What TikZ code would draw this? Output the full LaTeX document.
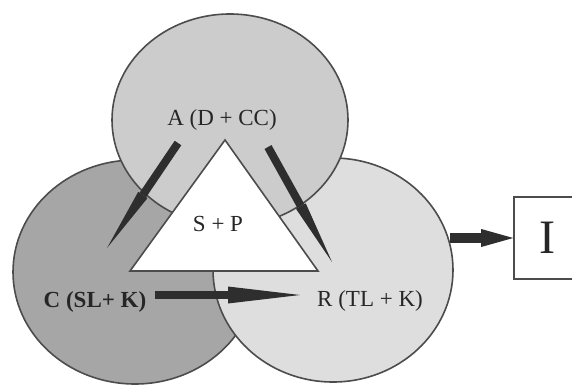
\documentclass[tikz,border=0pt]{standalone}
\usepackage{fontspec}
\setmainfont{Liberation Serif}
\usetikzlibrary{arrows.meta,shapes.geometric}
\definecolor{ActClr}{gray}{0.80}
\definecolor{CogClr}{gray}{0.65}
\definecolor{ResClr}{gray}{0.87}
\definecolor{EdgeClr}{gray}{0.30}
\definecolor{ArrowClr}{gray}{0.18}

\tikzset{
  blob/.style={ellipse,draw=EdgeClr,line width=0.8pt,inner sep=0pt},
  lab/.style={font=\fontsize{11.5}{13}\selectfont,text=black!85},
  fatarrow/.style={draw=ArrowClr,line width=4pt,
    -{Triangle[length=32pt,width=5.6pt,line width=0pt]}},
}

\begin{document}
\begin{tikzpicture}[x=0.5pt,y=-0.5pt]
\useasboundingbox (0,0) rectangle (572,385);

% the three overlapping areas, back to front
\node[blob,fill=CogClr,minimum width=122pt,minimum height=112pt] (C) at (135,272) {};
\node[blob,fill=ResClr,minimum width=120pt,minimum height=112pt] (R) at (333,270) {};
\node[blob,fill=ActClr,minimum width=118pt,minimum height=106pt] (A) at (230,120) {};

\coordinate (T1) at (225,140);
\coordinate (T2) at (130,271);
\coordinate (T3) at (318,271);
\draw[fill=white,draw=EdgeClr,line width=0.8pt] (T1) -- (T2) -- (T3) -- cycle;

\node[lab] (Alab) at (222,120) {A (D + CC)};
\node[lab] (SP) at (218,224) {S + P};
\node[lab,font=\fontsize{11.5}{13}\selectfont\bfseries] (Clab) at (95,302) {C (SL+ K)};
\node[lab] (Rlab) at (370,301) {R (TL + K)};
\node[draw=EdgeClr,line width=0.8pt,minimum width=33pt,minimum height=41pt,
      font=\fontsize{24}{24}\selectfont,text=black!85] (I) at (547,238) {I};

\coordinate (a1) at (178,143); \coordinate (a2) at (107,248);
\coordinate (b1) at (268,147); \coordinate (b2) at (332,262);
\coordinate (c1) at (155,295); \coordinate (c2) at (300,295);
\coordinate (d1) at (450,238);

\draw[fatarrow] (a1) -- (a2);
\draw[fatarrow] (b1) -- (b2);
\draw[fatarrow,line width=3.8pt,-{Triangle[length=36pt,width=8.5pt,line width=0pt]}] (c1) -- (c2);
\draw[fatarrow,line width=5pt,-{Triangle[length=16pt,width=9pt,line width=0pt]}] (d1) -- (I);

\end{tikzpicture}
\end{document}
